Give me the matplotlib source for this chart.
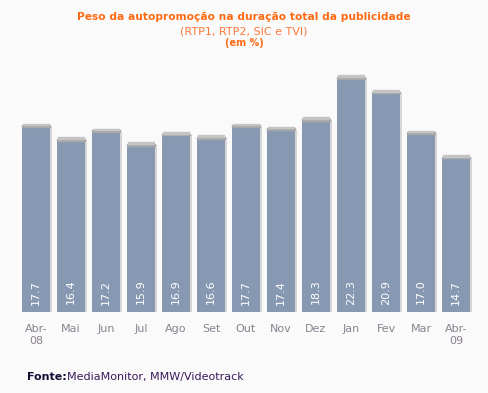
import numpy as np
import matplotlib.pyplot as plt
from matplotlib.patches import Rectangle

months = ["Abr-\n08", "Mai", "Jun", "Jul", "Ago", "Set", "Out", "Nov", "Dez", "Jan", "Fev", "Mar", "Abr-\n09"]
values = [17.7, 16.4, 17.2, 15.9, 16.9, 16.6, 17.7, 17.4, 18.3, 22.3, 20.9, 17.0, 14.7]

bg = "#fafafa"
bar_color = "#8799b2"
orange = "#ff6a13"

fig = plt.figure(figsize=(4.88, 3.93), dpi=100, facecolor=bg)
W, H = 488, 393
ax = fig.add_axes([15 / W, 81 / H, 462 / W, 262 / H], facecolor=bg)

x = np.arange(len(values))
# soft shadow on the right side
ax.bar(x + 0.06, values, width=0.8, color="#d6d6d6", zorder=1)
ax.bar(x, values, width=0.8, color=bar_color, zorder=2)
# grey cap on top of every bar
for xi, v in zip(x, values):
    ax.add_patch(Rectangle((xi - 0.4, v - 0.05), 0.8, 0.18, color="#a8a8a8", zorder=3))
    ax.add_patch(Rectangle((xi - 0.38, v + 0.13), 0.76, 0.15, color="#c4c4c4", zorder=3))
    ax.text(xi, 1.9, f"{v:.1f}", rotation=90, ha="center", va="center",
            color="white", fontsize=8, zorder=4)

ax.set_xlim(-0.6, 12.6)
ax.set_ylim(0, 25)
ax.set_xticks(x)
ax.set_xticklabels(months, fontsize=8, color="#8a8290", linespacing=1.2, va="top")
ax.tick_params(axis="x", length=0, pad=9)
ax.set_yticks([])
for s in ax.spines.values():
    s.set_visible(False)

fig.text(0.5, 1 - 17 / H, "Peso da autopromoção na duração total da publicidade",
         ha="center", va="center", color=orange, fontsize=7.7, fontweight="bold")
fig.text(0.5, 1 - 31 / H, "(RTP1, RTP2, SIC e TVI)", ha="center", va="center",
         color="#ff7a3a", fontsize=8)
fig.text(0.5, 1 - 43 / H, "(em %)", ha="center", va="center", color=orange,
         fontsize=7, fontweight="bold")

fig.text(27 / W, 1 - 377 / H, "Fonte:", ha="left", va="center", fontsize=8,
         fontweight="bold", color="#111133")
fig.text(67 / W, 1 - 377 / H, "MediaMonitor, MMW/Videotrack", ha="left", va="center",
         fontsize=8, color="#3a1a5a")

fig.savefig("out.png", dpi=100, facecolor=bg)
